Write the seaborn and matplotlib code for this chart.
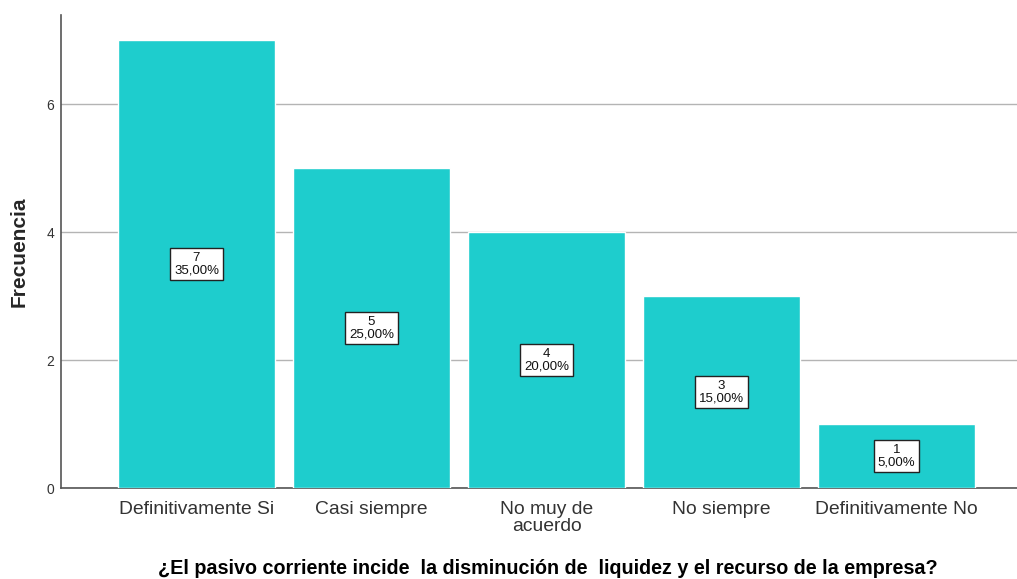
import matplotlib
matplotlib.use("Agg")
import numpy as np
import pandas as pd
import seaborn as sns
from matplotlib import pyplot as plt

categorias = ['Definitivamente Si', 'Casi siempre', 'No muy de\nacuerdo', 'No siempre', 'Definitivamente No']
frecuencia = [7, 5, 4, 3, 1]
porcentaje = ['35,00%', '25,00%', '20,00%', '15,00%', '5,00%']

sns.set_style("white")
plt.rcParams['font.family'] = ['Liberation Sans', 'DejaVu Sans']

df = pd.DataFrame({'cat': categorias, 'freq': frecuencia})

fig = plt.figure(figsize=(10.17, 5.79), dpi=100)
ax = fig.add_axes([0.060, 0.157, 0.940, 0.817])
sns.barplot(data=df, x='cat', y='freq', color='#1ecdcd', saturation=1, width=0.9, ax=ax, zorder=3)

ax.set_ylim(0, 7.39)
ax.set_xlim(-0.774, 4.689)
ax.set_yticks([0, 2, 4, 6])
ax.yaxis.grid(True, color='#b4b4b4', linewidth=1, zorder=0)
ax.set_axisbelow(True)
for s in ['top', 'right']:
    ax.spines[s].set_visible(False)
for s in ['left', 'bottom']:
    ax.spines[s].set_color('#555555')
    ax.spines[s].set_linewidth(1.2)
ax.tick_params(axis='both', length=0)
ax.tick_params(axis='y', labelsize=10, colors='#333333', pad=5)
ax.tick_params(axis='x', labelsize=13.9, colors='#333333', pad=9)
for t in ax.get_xticklabels():
    t.set_linespacing(1.05)

ax.set_ylabel('Frecuencia', fontsize=15, fontweight='bold', labelpad=13)
ax.set_xlabel('¿El pasivo corriente incide  la disminución de  liquidez y el recurso de la empresa?',
              fontsize=14.2, fontweight='bold', color='black')
ax.xaxis.set_label_coords(0.509, -0.15)

for i, (f, p) in enumerate(zip(frecuencia, porcentaje)):
    ax.text(i, f / 2, f'{f}\n{p}', ha='center', va='center', fontsize=9.5, linespacing=1.05,
            color='#111111', zorder=5,
            bbox=dict(boxstyle='square,pad=0.3', facecolor='white', edgecolor='#222222', linewidth=1))

fig.savefig('out.png', dpi=100)
